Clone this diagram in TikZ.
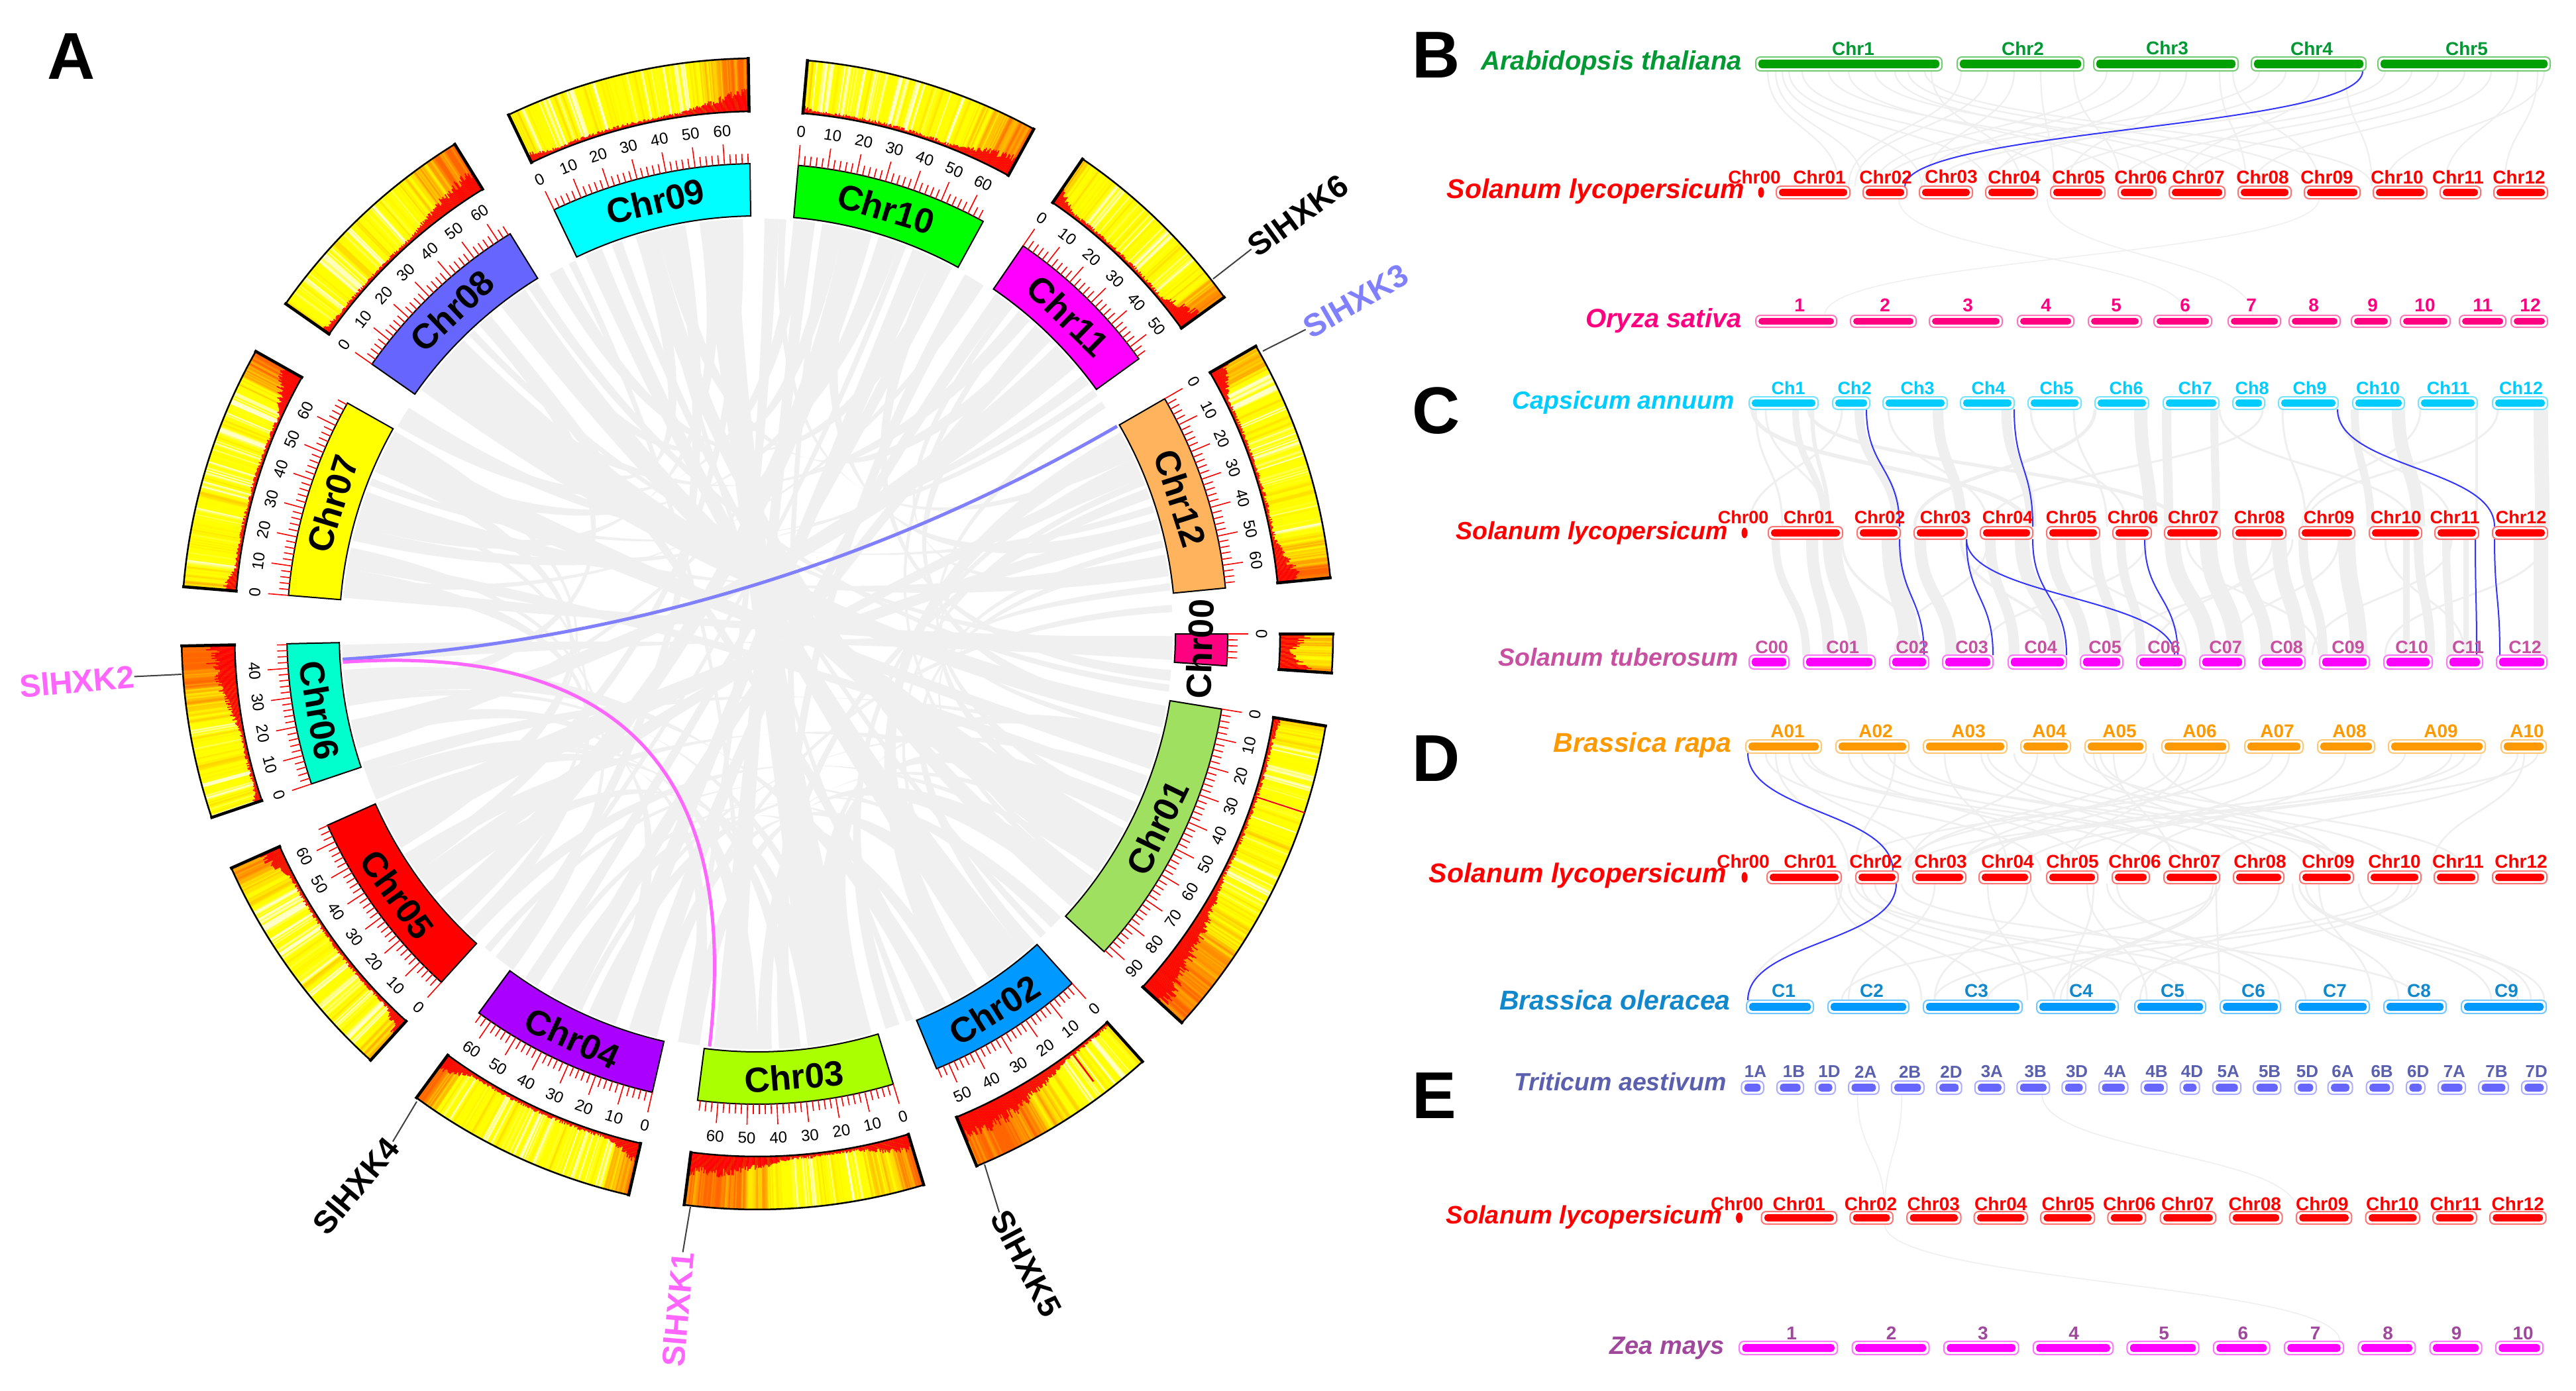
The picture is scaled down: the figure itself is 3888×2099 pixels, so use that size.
\documentclass[tikz,border=0pt]{standalone}
\usepackage{fontspec}
\setmainfont{Liberation Sans}
\usetikzlibrary{calc}
\definecolor{ribc}{HTML}{F0F0F0}
\definecolor{linkc}{HTML}{EFEFEF}
\definecolor{bluel}{HTML}{3333FF}
\definecolor{hxkpink}{HTML}{FF66FF}
\definecolor{hxkpurple}{HTML}{8080FF}
\definecolor{c00}{HTML}{FF0080}
\definecolor{c01}{HTML}{9FE060}
\definecolor{c02}{HTML}{0099FF}
\definecolor{c03}{HTML}{AAFF00}
\definecolor{c04}{HTML}{AA00FF}
\definecolor{c05}{HTML}{FF0000}
\definecolor{c06}{HTML}{00FFCC}
\definecolor{c07}{HTML}{FFFF00}
\definecolor{c08}{HTML}{6666FF}
\definecolor{c09}{HTML}{00FFFF}
\definecolor{c10}{HTML}{00FF00}
\definecolor{c11}{HTML}{FF00FF}
\definecolor{c12}{HTML}{FFB35C}
\definecolor{athal}{HTML}{009933}
\definecolor{athalb}{HTML}{00A000}
\definecolor{osat}{HTML}{FF0080}
\definecolor{cann}{HTML}{00CCFF}
\definecolor{stub}{HTML}{C850A0}
\definecolor{magb}{HTML}{FF00FF}
\definecolor{redb}{HTML}{FF0000}
\definecolor{brap}{HTML}{FF9900}
\definecolor{bole}{HTML}{1188CC}
\definecolor{boleb}{HTML}{0099FF}
\definecolor{taes}{HTML}{5A5FAE}
\definecolor{taesb}{HTML}{6666FF}
\definecolor{zmay}{HTML}{A0489C}
\newcommand\fs[1]{\fontsize{#1}{#1}\selectfont}
\tikzset{
  tickl/.style={redb,line width=1.6},
  tickn/.style={inner sep=0,font=\fs{24}},
  bandn/.style={inner sep=0,font=\fs{53}\bfseries},
  hxkn/.style={inner sep=0,font=\fs{48}\bfseries},
  panell/.style={inner sep=0,font=\fs{100}\bfseries},
  spn/.style={inner sep=0,anchor=base east},
  chrn/.style={inner sep=0},
  lk/.style={linkc},
  bl/.style={bluel,line width=2},
}
\newcommand\rbn[4]{\fill[ribc] (#1:627) .. controls (#1:209) and (#3:209) .. (#3:627)
   arc[start angle=#3,end angle=#4,radius=627]
   .. controls (#4:209) and (#2:209) .. (#2:627)
   arc[start angle=#2,end angle=#1,radius=627] -- cycle;}
\def\hprev{0}
\newcommand\heatrow[6]{%
  \pgfmathtruncatemacro\hN{abs(#1-(#2))/0.13}%
  \foreach \i in {0,...,\hN}{%
    \pgfmathsetmacro\hx{\i/\hN}%
    \pgfmathsetmacro\hL{max(0,min(1,max((#3-\hx)/#5,(\hx-#4)/#5)))}%
    \pgfmathsetmacro\hn{0.6*\hprev+0.8*(rnd-0.5)}%
    \global\let\hprev\hn
    \pgfmathsetmacro\hv{max(0,min(1,0.17+0.8*\hL+0.45*\hn))}%
    \pgfmathsetmacro\hG{\hv>0.3 ? 1-(\hv-0.3)*0.86 : 1}%
    \pgfmathsetmacro\hB{\hv<0.13 ? (0.13-\hv)*6 : 0}%
    \definecolor{hcol}{rgb}{1,\hG,\hB}%
    \pgfmathsetmacro\ha{#1+(#2-(#1))*\i/(\hN+1)}%
    \pgfmathsetmacro\hb{#1+(#2-(#1))*(\i+1.35)/(\hN+1)}%
    \pgfmathsetmacro\he{#1+(#2-(#1))*(\i+1)/(\hN+1)}%
    \fill[hcol] (\ha:789) -- (\ha:869) -- (\hb:869) -- (\hb:789) -- cycle;%
    \pgfmathsetmacro\hH{3+#6*\hL*(0.55+0.5*rnd)+4*rnd}%
    \pgfmathsetmacro\hT{789+\hH}%
    \fill[redb] (\ha:789) -- (\ha:\hT) -- (\he:\hT) -- (\he:789) -- cycle;%
  }%
  \draw[black,line width=2.5] (#1:869) arc[start angle=#1,end angle=#2,radius=869]
     (#2:789) arc[start angle=#2,end angle=#1,radius=789];
  \draw[black,line width=4.5] (#1:787) -- (#1:871) (#2:787) -- (#2:871);
}
\newcommand\chrom[9]{%
  \draw[black,line width=2,fill=c#1] (#2:631) arc[start angle=#2,end angle=#3,radius=631]
     -- (#3:710) arc[start angle=#3,end angle=#2,radius=710] -- cycle;
  \foreach \m in {0,2,...,#4}{%
    \pgfmathsetmacro\ta{#2-0.36*\m}%
    \pgfmathtruncatemacro\ism{mod(\m,10)==0 ? 1 : 0}%
    \ifnum\ism=1
      \draw[tickl] (\ta:710) -- (\ta:741);
      \pgfmathsetmacro\rt{sin(\ta)>=0 ? \ta-90 : \ta+90}%
      \node[tickn,rotate=\rt] at (\ta:761) {\m};
    \else
      \draw[tickl] (\ta:710) -- (\ta:725);
    \fi
  }%
  \heatrow{#2}{#3}{#5}{#6}{#7}{#8}%
  \pgfmathsetmacro\midang{(#2+#3)/2}%
  \pgfmathsetmacro\rt{sin(\midang)>=0 ? \midang-90 : \midang+90}%
  \node[bandn,rotate=\rt] (n#1) at (\midang:#9) {Chr#1};
}
\newcommand\synl[5]{\pgfmathsetmacro\ym{(#2+#4)/2}%
  \draw[lk,line width=#5] (#1,#2) .. controls (#1,\ym) and (#3,\ym) .. (#3,#4);}
\newcommand\syb[4]{\pgfmathsetmacro\ym{(#2+#4)/2}%
  \draw[bl] (#1,#2) .. controls (#1,\ym) and (#3,\ym) .. (#3,#4);}
\newcount\tnum
\newcommand\chrbar[4]{%
  \draw[\cc!55,line width=2,fill=white,rounded corners=7] (#1,\ytop) rectangle (#2,\ybot);
  \fill[\cc,rounded corners=5] ($(#1,\ytop)+(4,4)$) rectangle ($(#2,\ybot)+(-4,-4)$);
  \global\advance\tnum by 1
  \node[chrn,font=\fs{\lfs}\bfseries,text=\lc] (t\the\tnum) at (#3,\yl) {#4};
}
\newcommand\chrdot[3]{%
  \pgfmathsetmacro\ymid{(\ytop+\ybot)/2}%
  \fill[\cc] (#1,\ymid) ellipse[x radius=4.5,y radius=8];
  \global\advance\tnum by 1
  \node[chrn,font=\fs{\lfs}\bfseries,text=\lc] (t\the\tnum) at (#2,\yl) {#3};
}
\begin{document}
\begin{tikzpicture}[x=1pt,y=-1pt]
\fill[white] (0,0) rectangle (3888,2099);
\useasboundingbox (0,0) rectangle (3888,2099);

%%%%%%%%%%%%%%%% Panel A
\begin{scope}[shift={(1143,957)},y=1pt]
\pgfmathsetseed{4217}
\rbn{-0.3}{-3.6}{-176}{-178.5}
\rbn{-0.5}{-2.5}{173}{175}
\rbn{8}{11}{160}{163}
\rbn{14}{16}{-150}{-155}
\rbn{19}{20.5}{-88}{-90}
\rbn{26}{29}{-58}{-62}
\rbn{53}{55}{-105}{-108}
\rbn{40}{44}{-165}{-168}
\rbn{37}{38.5}{165}{167}
\rbn{82}{84}{-92}{-96}
\rbn{74}{78}{-136}{-140}
\rbn{65}{68}{-110}{-113}
\rbn{112}{114.5}{-50}{-56}
\rbn{104}{107}{-38}{-41}
\rbn{93}{98}{-75}{-83}
\rbn{124}{128}{-28}{-35}
\rbn{135}{144}{-10}{-13}
\rbn{152}{157}{-17}{-19}
\rbn{-171}{-175}{-63}{-66}
\rbn{-116}{-119}{45}{47}
\rbn{-122}{-124}{62}{64}
\rbn{-142}{-145}{22}{24}
\rbn{130}{132}{-64}{-66}
\rbn{169}{171}{-21}{-23}
\rbn{154}{156}{70}{72}
\rbn{137}{139}{49}{51}
\rbn{100}{102}{-127}{-129}
\rbn{87}{89}{-100}{-101}
\rbn{92}{93.5}{-145}{-147}
\rbn{80}{81}{-80}{-82}
\rbn{58}{60}{-85}{-87}
\rbn{50}{51}{-36}{-37}
\rbn{33}{34}{-25}{-26.5}
\rbn{12}{13}{-37}{-38}
\rbn{24}{25}{-70}{-72}
\rbn{6}{7}{-14}{-15}
\rbn{-43}{-44}{-112}{-114}
\rbn{-52}{-53}{-122}{-123}
\rbn{-16}{-17}{-160}{-162}
\rbn{-24}{-26}{-146}{-148}
\rbn{-34}{-35}{-133}{-135}
\rbn{-76}{-78}{-170}{-171}
\rbn{-84}{-86}{-154}{-156}
\rbn{109}{110.5}{-46}{-47}
\rbn{122}{123.5}{-7}{-8}
\rbn{133}{134}{-2}{-3}
\rbn{147}{149}{17}{18}
\rbn{158}{159}{35}{36}
\rbn{172}{173}{57}{58}
\rbn{105}{106}{-68}{-69}
\rbn{116}{117}{-92}{-93}
\rbn{69}{70}{-128}{-129}
\rbn{72}{73}{-164}{-165}
\rbn{-98}{-99}{-30}{-31}
\rbn{-104}{-105}{3}{4}
\rbn{-130}{-131}{-44}{-45}
% neighbours, which give the web its curved lenses
\rbn{-24}{-27}{-74}{-78}
\rbn{-36}{-40}{-98}{-100}
\rbn{-14}{-16}{-78}{-80}
\rbn{-50}{-53}{-104}{-106}
\rbn{-60}{-62}{-118}{-120}
\rbn{-80}{-83}{-141}{-143}
\rbn{-90}{-93}{-158}{-160}
\rbn{-110}{-112}{-165}{-167}
\rbn{-133}{-135}{171}{173}
\rbn{-150}{-152}{155}{157}
\rbn{-170}{-172}{130}{132}
\rbn{163}{165}{96}{98}
\rbn{148}{150}{83}{85}
\rbn{126}{128}{78}{80}
\rbn{141}{143}{105}{107}
\rbn{118}{120}{62}{64}
\rbn{102}{104}{45}{47}
\rbn{86}{87}{25}{26}
\rbn{76}{78}{14}{16}
\rbn{63}{65}{-5}{-6.5}
\rbn{46}{48}{-11}{-13}
\rbn{52}{53}{8}{9}
\rbn{27}{28}{-28}{-30}
\rbn{10}{11}{-48}{-50}
\rbn{21}{22}{-55}{-56}
\rbn{-20}{-21}{-115}{-116}
\rbn{168}{169}{-126}{-127}
\rbn{160}{161}{-136}{-137}
\rbn{150.8}{152}{-149}{-150}
\rbn{-158}{-156.5}{-100}{-98}
% name, start, end, maxMb, a, b, w, hmax, label radius
\chrom{01}{-9.2}{-42.5}{92}{0.08}{0.55}{0.4}{40}{671}
\chrom{02}{-48}{-67.6}{54}{0.0}{0.3}{0.45}{34}{671}
\chrom{03}{-73.2}{-97.3}{66}{0.25}{0.55}{0.3}{28}{671}
\chrom{04}{-102.9}{-126.3}{64}{0.15}{0.85}{0.15}{28}{671}
\chrom{05}{-132.2}{-156}{66}{0.1}{0.85}{0.15}{36}{671}
\chrom{06}{-161.4}{-178.8}{48}{0.1}{0.45}{0.45}{36}{671}
\chrom{07}{175.3}{150.6}{68}{0.1}{0.8}{0.2}{36}{671}
\chrom{08}{145}{121.7}{64}{0.1}{0.6}{0.4}{34}{671}
\chrom{09}{115.6}{90.9}{68}{0.1}{0.7}{0.3}{30}{671}
\chrom{10}{85}{61.3}{64}{0.05}{0.7}{0.3}{30}{671}
\chrom{11}{55.6}{35.8}{54}{0.12}{0.8}{0.2}{36}{671}
\chrom{12}{30}{5.6}{66}{0.15}{0.8}{0.2}{34}{671}
\chrom{00}{0}{-3.9}{8}{0.7}{0.3}{1}{70}{668}
\draw[redb,line width=2] (-18.1:789) -- (-18.1:869);
\draw[redb,line width=2.5] (-53.1:792) -- (-53.1:845);
% highlighted links
\coordinate (pa) at (-176.5:627);
\coordinate (pb) at (30:627);
\coordinate (qa) at (-176.1:627);
\coordinate (qb) at (-96.6:627);
\draw[hxkpurple,line width=5] (pa) .. controls (-176.5:209) and (30:209) .. (pb);
\draw[hxkpink,line width=5] (qa) .. controls (-176.1:209) and (-96.6:209) .. (qb);
\end{scope}

% gene labels
\node[hxkn,rotate=36] (h6) at (1959,325) {SlHXK6};
\node[hxkn,rotate=30,text=hxkpurple] (h3) at (2046,454) {SlHXK3};
\node[hxkn,rotate=5,text=hxkpink] (h2) at (116,1029) {SlHXK2};
\node[hxkn,rotate=85,text=hxkpink] (h1) at (1023,1977) {SlHXK1};
\node[hxkn,rotate=50] (h4) at (537,1790) {SlHXK4};
\node[hxkn,rotate=-62] (h5) at (1549,1907) {SlHXK5};
\coordinate (e6) at (1831,421);
\coordinate (e3) at (1906,530);
\coordinate (e2) at (274,1018);
\coordinate (e1) at (1042,1822);
\coordinate (e4) at (629,1663);
\coordinate (e5) at (1486,1758);
\draw[black!75,line width=2] (e6) -- (h6.west);
\draw[black!75,line width=2] (e3) -- (h3.west);
\draw[black!75,line width=2] (e2) -- (h2.east);
\draw[black!75,line width=2] (e1) -- (h1.east);
\draw[black!75,line width=2] (e4) -- (h4.east);
\draw[black!75,line width=2] (e5) -- (h5.west);

% panel letters
\node[panell] (A) at (108,85) {A};
\node[panell] (B) at (2168,83) {B};
\node[panell] (C) at (2168,620) {C};
\node[panell] (D) at (2168,1145) {D};
\node[panell] (E) at (2165,1654) {E};

%%%%%%%%%%%%%%%% Panel B links
\foreach \p/\q in {2668/2775,2680/2812,2690/2900,2700/3000,2720/3100,2760/3270,2790/3200,2830/3400,2860/3330,2880/3480,2905/3580,2915/3050,2960/2790,3000/2800,3040/2905,3080/3100,3130/3200,3180/2830,3220/2900,3260/3010,3300/3120,3350/3390,3370/3500,3410/2840,3450/3000,3500/3290,3540/3580,3600/2920,3640/3100,3680/3200,3720/3300,3760/3400,3800/3690,3830/3780,3840/3600}{\synl{\p}{107}{\q}{281}{2.2}}
\synl{2866}{300}{3300}{476}{1.5}
\synl{3500}{300}{2754}{476}{1.5}
\synl{3090}{300}{3400}{476}{1.5}
\syb{3566}{107}{2875}{282}

%%%%%%%%%%%%%%%% Panel C links
\foreach \p/\q/\w in {2806/2863/14,2925/2960/16,2710/2754/10,2735/2760/6,3028/3066/15,3231/3246/20,3270/3273/14,3342/3345/12,3554/3578/12,3620/3650/20,3835/3837/22,3738/3738/4,2645/3060/6,2650/2690/3,2665/2760/3,3415/3000/3,3653/3475/3,3162/2890/5,2730/3290/5,2850/3000/3,3130/3180/3,3065/3210/3,3350/3640/3,3445/3480/3,3770/3480/3,2780/2640/3,3530/3700/3}{\synl{\p}{618}{\q}{795}{\w}}
\foreach \p/\q/\w in {2680/2726/12,2735/2760/18,2765/2805/28,2855/2882/30,2898/2945/18,3004/3040/16,3052/3105/22,3097/3147/18,3162/3195/16,3201/3231/14,3279/3333/24,3333/3375/26,3380/3422/20,3440/3470/22,3476/3506/14,3542/3560/26,3632/3632/10,3650/3668/14,3692/3698/12,3722/3722/8,3835/3835/22,2780/2900/4,2960/3110/4,3000/2860/3,3120/3300/3,3240/2990/3,3300/3500/3,3430/3250/3,3530/3360/3,3600/3720/3,3700/3490/3,3840/3600/3,3460/3200/3}{\synl{\p}{814}{\q}{989}{\w}}
\syb{2817}{618}{2867}{795}
\syb{2867}{814}{2904}{989}
\syb{3040}{618}{3068}{795}
\syb{3068}{814}{3119}{989}
\syb{3528}{618}{3765}{795}
\syb{3765}{814}{3773}{989}
\syb{2968}{814}{3008}{989}
\syb{2968}{814}{3282}{989}
\syb{3237}{814}{3287}{989}
\syb{3736}{814}{3738}{989}

%%%%%%%%%%%%%%%% Panel D links
\foreach \p/\q in {2665/3080,2680/2790,2720/3350,2790/3150,2810/3340,2860/2800,2880/3450,2935/3030,2990/3300,3000/3480,3075/2880,3100/3620,3145/3720,3160/3410,3170/3520,3190/3280,3290/2960,3300/3120,3350/2870,3360/3000,3430/2790,3455/3180,3540/3230,3630/2950,3700/3100,3720/2950,3745/3050,3800/3340,3810/3670,3830/2880,2700/2900,3250/3530,2730/3250,2850/3550,3040/3540,3240/2880}{\synl{\p}{1137}{\q}{1315}{2.6}}
\foreach \p/\q in {2780/2640,2770/2900,2790/3100,2810/3200,2830/3300,2870/3650,3060/2920,3065/3350,3150/3240,3160/3120,3180/3480,3195/3440,3340/3100,3345/3110,3350/2780,3345/3350,3440/3230,3460/3620,3470/3840,3480/3760,3500/3580,3640/3200,3650/3000,2920/2790,3000/3060,3560/3820,3620/2920,2775/3000,2800/3400,3470/3800}{\synl{\p}{1334}{\q}{1510}{2.6}}
\syb{2638}{1137}{2857}{1315}
\syb{2862}{1334}{2638}{1510}

%%%%%%%%%%%%%%%% Panel B rows
\def\lfs{28}
\def\ytop{86}\def\ybot{107}\def\yl{73}\def\cc{athalb}\def\lc{athal}
\node[spn,text=athal,font=\fs{40}\bfseries\itshape] (sb1) at (2629,105) {Arabidopsis thaliana};
\chrbar{2650}{2931}{2797}{Chr1}
\chrbar{2954}{3145}{3053}{Chr2}
\chrbar{3160}{3378}{3271}{Chr3}
\chrbar{3398}{3571}{3489}{Chr4}
\chrbar{3589}{3849}{3723}{Chr5}

\def\ytop{281}\def\ybot{300}\def\yl{267}\def\cc{redb}\def\lc{redb}
\node[spn,text=redb,font=\fs{41}\bfseries\itshape] (sb2) at (2633,299) {Solanum lycopersicum};
\chrdot{2658}{2648}{Chr00}
\chrbar{2681}{2792}{2746}{Chr01}
\chrbar{2812}{2878}{2846}{Chr02}
\chrbar{2897}{2977}{2945}{Chr03}
\chrbar{2997}{3075}{3040}{Chr04}
\chrbar{3095}{3177}{3137}{Chr05}
\chrbar{3197}{3254}{3231}{Chr06}
\chrbar{3274}{3358}{3318}{Chr07}
\chrbar{3378}{3458}{3415}{Chr08}
\chrbar{3478}{3562}{3512}{Chr09}
\chrbar{3582}{3663}{3618}{Chr10}
\chrbar{3683}{3744}{3710}{Chr11}
\chrbar{3764}{3845}{3802}{Chr12}

\def\ytop{476}\def\ybot{494}\def\yl{461}\def\cc{osat}\def\lc{osat}
\node[spn,text=osat,font=\fs{40}\bfseries\itshape] (sb3) at (2629,494) {Oryza sativa};
\chrbar{2650}{2772}{2716}{1}
\chrbar{2793}{2892}{2845}{2}
\chrbar{2912}{3022}{2970}{3}
\chrbar{3045}{3130}{3088}{4}
\chrbar{3152}{3232}{3194}{5}
\chrbar{3251}{3338}{3298}{6}
\chrbar{3363}{3442}{3398}{7}
\chrbar{3455}{3532}{3492}{8}
\chrbar{3549}{3608}{3581}{9}
\chrbar{3623}{3698}{3660}{10}
\chrbar{3712}{3782}{3747}{11}
\chrbar{3790}{3845}{3819}{12}

%%%%%%%%%%%%%%%% Panel C rows
\def\lfs{27}
\def\ytop{599}\def\ybot{618}\def\yl{586}\def\cc{cann}\def\lc{cann}
\node[spn,text=cann,font=\fs{37.5}\bfseries\itshape] (sc1) at (2618,617) {Capsicum annuum};
\chrbar{2640}{2744}{2699}{Ch1}
\chrbar{2766}{2822}{2799}{Ch2}
\chrbar{2842}{2939}{2894}{Ch3}
\chrbar{2959}{3040}{3001}{Ch4}
\chrbar{3061}{3141}{3104}{Ch5}
\chrbar{3162}{3243}{3209}{Ch6}
\chrbar{3265}{3349}{3313}{Ch7}
\chrbar{3370}{3418}{3399}{Ch8}
\chrbar{3439}{3529}{3486}{Ch9}
\chrbar{3551}{3629}{3589}{Ch10}
\chrbar{3650}{3739}{3695}{Ch11}
\chrbar{3762}{3845}{3805}{Ch12}

\def\ytop{795}\def\ybot{814}\def\yl{781}\def\cc{redb}\def\lc{redb}
\node[spn,text=redb,font=\fs{37.5}\bfseries\itshape] (sc2) at (2608,814) {Solanum lycopersicum};
\chrdot{2633}{2631}{Chr00}
\chrbar{2669}{2781}{2730}{Chr01}
\chrbar{2803}{2868}{2837}{Chr02}
\chrbar{2889}{2969}{2936}{Chr03}
\chrbar{2989}{3068}{3030}{Chr04}
\chrbar{3089}{3169}{3126}{Chr05}
\chrbar{3189}{3247}{3219}{Chr06}
\chrbar{3267}{3351}{3310}{Chr07}
\chrbar{3370}{3450}{3410}{Chr08}
\chrbar{3470}{3554}{3515}{Chr09}
\chrbar{3576}{3655}{3616}{Chr10}
\chrbar{3675}{3741}{3705}{Chr11}
\chrbar{3762}{3845}{3805}{Chr12}

\def\ytop{989}\def\ybot{1010}\def\yl{977}\def\cc{magb}\def\lc{stub}
\node[spn,text=stub,font=\fs{37.5}\bfseries\itshape] (sc3) at (2624,1005) {Solanum tuberosum};
\chrbar{2640}{2700}{2674}{C00}
\chrbar{2722}{2830}{2781}{C01}
\chrbar{2852}{2911}{2886}{C02}
\chrbar{2932}{3008}{2976}{C03}
\chrbar{3031}{3119}{3080}{C04}
\chrbar{3140}{3204}{3177}{C05}
\chrbar{3225}{3298}{3266}{C06}
\chrbar{3320}{3388}{3359}{C07}
\chrbar{3410}{3479}{3451}{C08}
\chrbar{3501}{3576}{3544}{C09}
\chrbar{3598}{3671}{3640}{C10}
\chrbar{3693}{3747}{3725}{C11}
\chrbar{3768}{3844}{3811}{C12}

%%%%%%%%%%%%%%%% Panel D rows
\def\lfs{28}
\def\ytop{1117}\def\ybot{1137}\def\yl{1104}\def\cc{brap}\def\lc{brap}
\node[spn,text=brap,font=\fs{41}\bfseries\itshape] (sd1) at (2614,1135) {Brassica rapa};
\chrbar{2635}{2749}{2698}{A01}
\chrbar{2771}{2881}{2831}{A02}
\chrbar{2903}{3029}{2971}{A03}
\chrbar{3050}{3125}{3093}{A04}
\chrbar{3147}{3239}{3199}{A05}
\chrbar{3263}{3364}{3320}{A06}
\chrbar{3388}{3476}{3437}{A07}
\chrbar{3498}{3584}{3546}{A08}
\chrbar{3605}{3751}{3684}{A09}
\chrbar{3775}{3843}{3814}{A10}

\def\ytop{1315}\def\ybot{1334}\def\yl{1300}\def\cc{redb}\def\lc{redb}
\node[spn,text=redb,font=\fs{41}\bfseries\itshape] (sd2) at (2606,1332) {Solanum lycopersicum};
\chrdot{2633}{2631}{Chr00}
\chrbar{2667}{2779}{2732}{Chr01}
\chrbar{2801}{2865}{2831}{Chr02}
\chrbar{2887}{2967}{2929}{Chr03}
\chrbar{2987}{3065}{3030}{Chr04}
\chrbar{3089}{3166}{3128}{Chr05}
\chrbar{3188}{3244}{3222}{Chr06}
\chrbar{3266}{3350}{3312}{Chr07}
\chrbar{3371}{3447}{3411}{Chr08}
\chrbar{3471}{3552}{3514}{Chr09}
\chrbar{3574}{3654}{3614}{Chr10}
\chrbar{3674}{3740}{3710}{Chr11}
\chrbar{3762}{3844}{3805}{Chr12}

\def\ytop{1510}\def\ybot{1530}\def\yl{1496}\def\cc{boleb}\def\lc{bole}
\node[spn,text=bole,font=\fs{41}\bfseries\itshape] (sd3) at (2612,1524) {Brassica oleracea};
\chrbar{2636}{2737}{2692}{C1}
\chrbar{2759}{2881}{2825}{C2}
\chrbar{2903}{3052}{2983}{C3}
\chrbar{3074}{3197}{3141}{C4}
\chrbar{3222}{3329}{3279}{C5}
\chrbar{3351}{3442}{3401}{C6}
\chrbar{3465}{3576}{3524}{C7}
\chrbar{3598}{3692}{3651}{C8}
\chrbar{3715}{3843}{3783}{C9}

%%%%%%%%%%%%%%%% Panel E
\begin{scope}[shift={(2140,0)},x=1.115pt]
\synl{595}{1652}{632}{1829}{1.6}
\synl{655}{1652}{632}{1829}{1.6}
\synl{845}{1652}{1190}{1829}{1.6}
\synl{632}{1848}{1248}{2025}{1.6}
\def\lfs{26}
\def\ytop{1632}\def\ybot{1652}\def\yl{1618}\def\cc{taesb}\def\lc{taes}
\chrbar{438}{468}{457}{1A}
\chrbar{486}{522}{509}{1B}
\chrbar{538}{565}{557}{1D}
\chrbar{583}{624}{606}{2A}
\chrbar{641}{685}{666}{2B}
\chrbar{702}{736}{722}{2D}
\chrbar{754}{794}{777}{3A}
\chrbar{811}{855}{836}{3B}
\chrbar{872}{904}{892}{3D}
\chrbar{922}{961}{944}{4A}
\chrbar{979}{1014}{1000}{4B}
\chrbar{1032}{1058}{1048}{4D}
\chrbar{1076}{1114}{1097}{5A}
\chrbar{1131}{1168}{1153}{5B}
\chrbar{1187}{1216}{1204}{5D}
\chrbar{1232}{1265}{1252}{6A}
\chrbar{1284}{1320}{1305}{6B}
\chrbar{1338}{1363}{1354}{6D}
\chrbar{1381}{1418}{1403}{7A}
\chrbar{1436}{1476}{1460}{7B}
\chrbar{1494}{1528}{1514}{7D}
\def\lfs{28}
\def\ytop{1829}\def\ybot{1848}\def\yl{1817}\def\cc{redb}\def\lc{redb}
\chrdot{435}{432}{Chr00}
\chrbar{465}{567}{516}{Chr01}
\chrbar{585}{643}{613}{Chr02}
\chrbar{662}{735}{698}{Chr03}
\chrbar{753}{825}{789}{Chr04}
\chrbar{843}{916}{880}{Chr05}
\chrbar{934}{985}{963}{Chr06}
\chrbar{1005}{1080}{1042}{Chr07}
\chrbar{1099}{1170}{1133}{Chr08}
\chrbar{1189}{1264}{1224}{Chr09}
\chrbar{1283}{1356}{1319}{Chr10}
\chrbar{1374}{1433}{1405}{Chr11}
\chrbar{1451}{1527}{1489}{Chr12}
\def\ytop{2025}\def\ybot{2045}\def\yl{2013}\def\cc{magb}\def\lc{zmay}
\chrbar{435}{568}{506}{1}
\chrbar{588}{692}{641}{2}
\chrbar{712}{813}{765}{3}
\chrbar{833}{941}{888}{4}
\chrbar{960}{1057}{1010}{5}
\chrbar{1077}{1153}{1117}{6}
\chrbar{1173}{1253}{1215}{7}
\chrbar{1273}{1350}{1313}{8}
\chrbar{1370}{1440}{1406}{9}
\chrbar{1459}{1523}{1496}{10}
\end{scope}
\node[spn,text=taes,font=\fs{37.5}\bfseries\itshape] (se1) at (2606,1646) {Triticum aestivum};
\node[spn,text=redb,font=\fs{38}\bfseries\itshape] (se2) at (2599,1847) {Solanum lycopersicum};
\node[spn,text=zmay,font=\fs{38}\bfseries\itshape] (se3) at (2603,2044) {Zea mays};
\end{tikzpicture}
\end{document}
